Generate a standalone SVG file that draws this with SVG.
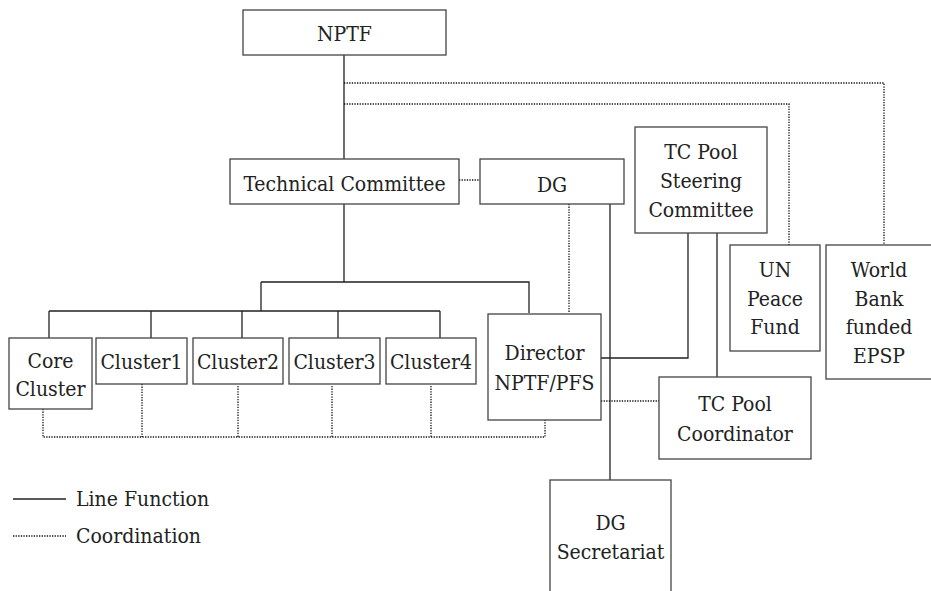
<svg xmlns="http://www.w3.org/2000/svg" width="931" height="591" viewBox="0 0 931 591">
<style>
.box{fill:#fff;stroke:#444;stroke-width:1.3}
text{font-family:'DejaVu Serif Condensed','DejaVu Serif',serif;font-stretch:condensed;font-size:21px;fill:#222}
.t{text-anchor:middle}
.ln{fill:none;stroke:#222;stroke-width:1.3}
.dt{fill:none;stroke:#111;stroke-width:1.3;stroke-dasharray:1.3 1.3}
</style>
<rect width="931" height="591" fill="#fff"/>
<g id="connectors">
<path class="ln" d="M344 55V159M344 204V282M261 282H529V313M261 282V311M49 311H440M49 311V338M151 311V338M242 311V338M338 311V338M440 311V338M610 204V480M601 358H688V233M717 233V377"/>
<path class="dt" d="M344 83H884V245M344 104H789V245M459 180H480M569 204V313M601 401H659M43 409V437H545V420M142 384V437M238 386V437M332 386V437M431 386V437"/>
</g>
<g id="nptf"><rect class="box" x="243" y="10" width="203" height="45"/><text class="t" x="344.5" y="41">NPTF</text></g>
<g id="technical-committee"><rect class="box" x="230" y="159" width="229" height="45"/><text class="t" x="344.5" y="191">Technical Committee</text></g>
<g id="dg"><rect class="box" x="480" y="159" width="144" height="45"/><text class="t" x="552" y="192">DG</text></g>
<g id="tc-pool-steering"><rect class="box" x="635" y="127" width="132" height="106"/><text class="t" x="701" y="159">TC Pool</text><text class="t" x="701" y="188">Steering</text><text class="t" x="701" y="217">Committee</text></g>
<g id="un-peace-fund"><rect class="box" x="730" y="245" width="90" height="106"/><text class="t" x="775" y="277">UN</text><text class="t" x="775" y="306">Peace</text><text class="t" x="775" y="334">Fund</text></g>
<g id="world-bank"><rect class="box" x="826" y="245" width="106" height="134"/><text class="t" x="879" y="277">World</text><text class="t" x="879" y="306">Bank</text><text class="t" x="879" y="334">funded</text><text class="t" x="879" y="363">EPSP</text></g>
<g id="core-cluster"><rect class="box" x="9" y="338" width="83" height="71"/><text class="t" x="50.5" y="368">Core</text><text class="t" x="50.5" y="396">Cluster</text></g>
<g id="cluster1"><rect class="box" x="96" y="338" width="91" height="46"/><text class="t" x="141.5" y="369">Cluster1</text></g>
<g id="cluster2"><rect class="box" x="193" y="338" width="90" height="46"/><text class="t" x="238" y="369">Cluster2</text></g>
<g id="cluster3"><rect class="box" x="289" y="338" width="91" height="46"/><text class="t" x="334.5" y="369">Cluster3</text></g>
<g id="cluster4"><rect class="box" x="386" y="338" width="90" height="46"/><text class="t" x="431" y="369">Cluster4</text></g>
<g id="director"><rect class="box" x="488" y="314" width="113" height="106"/><text class="t" x="544.5" y="360">Director</text><text class="t" x="544.5" y="390">NPTF/PFS</text></g>
<g id="tc-pool-coordinator"><rect class="box" x="659" y="377" width="152" height="82"/><text class="t" x="735" y="411">TC Pool</text><text class="t" x="735" y="441">Coordinator</text></g>
<g id="dg-secretariat"><rect class="box" x="550" y="480" width="121" height="125"/><text class="t" x="610.5" y="530">DG</text><text class="t" x="610.5" y="559">Secretariat</text></g>
<g id="legend">
<line class="ln" x1="13" y1="499" x2="66" y2="499"/>
<text x="76" y="506">Line Function</text>
<line class="dt" x1="13" y1="536" x2="66" y2="536"/>
<text x="76" y="543">Coordination</text>
</g>
</svg>
